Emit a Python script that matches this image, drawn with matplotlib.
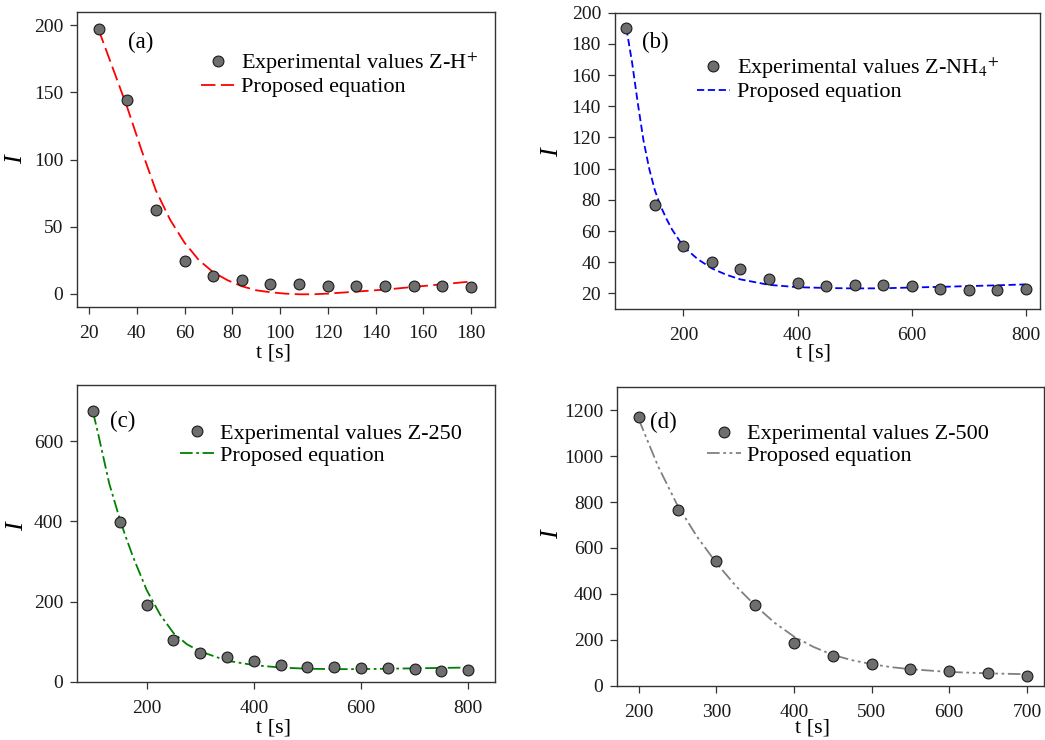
import matplotlib.pyplot as plt

plt.rcParams["font.family"] = ["Liberation Serif", "DejaVu Serif"]
plt.rcParams["mathtext.fontset"] = "stix"

# (a) Z-H+
a_t = [24, 36, 48, 60, 72, 84, 96, 108, 120, 132, 144, 156, 168, 180]
a_exp = [197, 144, 62, 24, 13, 10, 7, 7, 6, 5.5, 5.5, 5.5, 5.5, 5]
a_fit_t = [24, 30, 36, 42, 48, 54, 60, 66, 72, 78, 84, 90, 96, 102, 108,
           114, 120, 132, 144, 156, 168, 180]
a_fit = [197, 168, 139, 107, 77, 55, 38, 25, 16, 10, 5.5, 2.5, 1, 0, -0.5,
         -0.5, 0, 1.5, 3, 5, 7, 9]

# (b) Z-NH4+
b_t = [100, 150, 200, 250, 300, 350, 400, 450, 500, 550, 600, 650, 700, 750, 800]
b_exp = [190, 77, 50.5, 40, 35.5, 29.5, 27, 25, 25.5, 25.5, 24.5, 23, 22, 22.5, 23]
b_fit_t = [100, 110, 120, 130, 140, 150, 160, 170, 180, 200, 225, 250, 275,
           300, 350, 400, 450, 500, 550, 600, 650, 700, 750, 800]
b_fit = [190, 168, 142, 118, 100, 86, 76, 68, 61, 50, 42, 36, 32, 29, 25.5,
         24, 23.5, 23.2, 23.3, 23.8, 24.2, 24.7, 25.2, 25.8]

# (c) Z-250
c_t = [100, 150, 200, 250, 300, 350, 400, 450, 500, 550, 600, 650, 700, 750, 800]
c_exp = [675, 398, 193, 104, 73, 61, 52, 43, 38, 38, 35, 35, 32, 28, 30]
c_fit_t = [100, 110, 120, 130, 140, 150, 160, 175, 200, 225, 250, 275, 300,
           350, 400, 450, 500, 550, 600, 650, 700, 750, 800]
c_fit = [672, 615, 555, 495, 450, 405, 365, 310, 229, 168, 122, 94, 76, 53,
         42, 36, 33, 32, 32, 33, 34, 35, 36]

# (d) Z-500
d_t = [200, 250, 300, 350, 400, 450, 500, 550, 600, 650, 700]
d_exp = [1170, 767, 542, 352, 185, 132, 97, 76, 65, 58, 44]
d_fit_t = [200, 225, 250, 275, 300, 325, 350, 375, 400, 425, 450, 475, 500,
           525, 550, 600, 650, 700]
d_fit = [1160, 955, 785, 650, 535, 435, 350, 275, 215, 170, 135, 112, 95,
         82, 73, 61, 55, 51]

panels = [
    dict(rect=[0.0737, 0.5851, 0.400, 0.3987], t=a_t, exp=a_exp, ft=a_fit_t, fit=a_fit,
         name="Experimental values Z-H$^{+}$", color="#ff0000", dashes=(8, 3),
         xlim=(15, 190), ylim=(-10, 210), xt=range(20, 181, 20), yt=range(0, 201, 50),
         tag="(a)", tagpos=(0.122, 0.898), leg=(0.297, 0.87), ylab=(-0.12, 0.5),
         xlab=(0.47, -0.125)),
    dict(rect=[0.5885, 0.5824, 0.4067, 0.4004], t=b_t, exp=b_exp, ft=b_fit_t, fit=b_fit,
         name="Experimental values Z-NH$_4$$^{+}$", color="#0000ff", dashes=(4, 2),
         xlim=(80, 825), ylim=(10, 200), xt=range(200, 801, 200), yt=range(20, 201, 20),
         tag="(b)", tagpos=(0.064, 0.900), leg=(0.192, 0.856), ylab=(-0.122, 0.527),
         xlab=(0.466, -0.115)),
    dict(rect=[0.0737, 0.0784, 0.400, 0.4014], t=c_t, exp=c_exp, ft=c_fit_t, fit=c_fit,
         name="Experimental values Z-250", color="#008000", dashes=(7, 2, 1.5, 2),
         xlim=(70, 850), ylim=(0, 740), xt=range(200, 801, 200), yt=range(0, 601, 200),
         tag="(c)", tagpos=(0.079, 0.878), leg=(0.247, 0.87), ylab=(-0.117, 0.522),
         xlab=(0.469, -0.124)),
    dict(rect=[0.5904, 0.0730, 0.4086, 0.4040], t=d_t, exp=d_exp, ft=d_fit_t, fit=d_fit,
         name="Experimental values Z-500", color="#808080", dashes=(7, 2, 1.5, 2, 1.5, 2),
         xlim=(172, 722), ylim=(0, 1300), xt=range(200, 701, 100), yt=range(0, 1201, 200),
         tag="(d)", tagpos=(0.078, 0.882), leg=(0.212, 0.877), ylab=(-0.126, 0.505),
         xlab=(0.459, -0.108)),
]

fig = plt.figure(figsize=(10.45, 7.4), dpi=100)

for p in panels:
    ax = fig.add_axes(p["rect"])
    line, = ax.plot(p["ft"], p["fit"], color=p["color"], lw=1.3,
                    dashes=p["dashes"], label="Proposed equation", zorder=2)
    pts, = ax.plot(p["t"], p["exp"], "o", ms=7.8, mfc="#6e6e6e", mec="#1a1a1a",
                   mew=0.8, label=p["name"], zorder=3)
    ax.set_xlim(*p["xlim"])
    ax.set_ylim(*p["ylim"])
    ax.set_xticks(list(p["xt"]))
    ax.set_yticks(list(p["yt"]))
    for s in ax.spines.values():
        s.set_color("#333333")
        s.set_linewidth(1.0)
    ax.tick_params(direction="out", length=5, width=0.9, color="#333333",
                   labelsize=14, labelcolor="#1a1a1a")
    ax.tick_params(axis="x", pad=8)
    ax.tick_params(axis="y", pad=5)
    ax.text(p["tagpos"][0], p["tagpos"][1], p["tag"], transform=ax.transAxes,
            fontsize=16.5, ha="left", va="center")
    ax.legend(handles=[pts, line], loc="upper left", bbox_to_anchor=p["leg"],
              frameon=False, fontsize=16, handlelength=1.5, handletextpad=0.3,
              labelspacing=0.05, borderpad=0, borderaxespad=0, numpoints=1)
    ax.set_ylabel("I", fontsize=19, style="italic")
    ax.yaxis.set_label_coords(*p["ylab"])
    ax.set_xlabel("t [s]", fontsize=16)
    ax.xaxis.set_label_coords(*p["xlab"])

fig.savefig("out.png", dpi=100)
